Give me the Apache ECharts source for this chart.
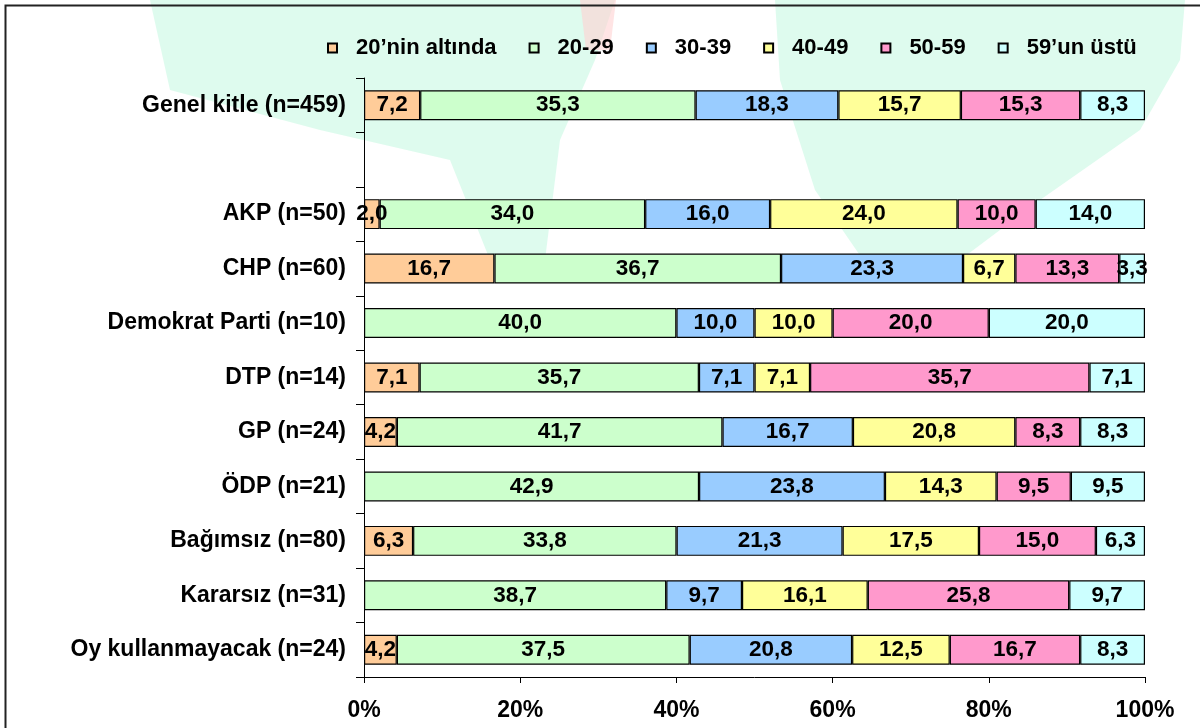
<!DOCTYPE html>
<html>
<head>
<meta charset="utf-8">
<script src="https://cdn.jsdelivr.net/npm/echarts@6/dist/echarts.min.js"></script>
<style>
html,body{margin:0;padding:0;background:#fff;}
#chart{width:1200px;height:728px;}
</style>
</head>
<body>
<div id="chart"></div>
<script>
var categories = ['Genel kitle (n=459)', '', 'AKP (n=50)', 'CHP (n=60)', 'Demokrat Parti (n=10)', 'DTP (n=14)', 'GP (n=24)', 'ÖDP (n=21)', 'Bağımsız (n=80)', 'Kararsız (n=31)', 'Oy kullanmayacak (n=24)'];
var seriesNames = ['20’nin altında', '20-29', '30-39', '40-49', '50-59', '59’un üstü'];
var under20 = [7.2, null, 2.0, 16.7, null, 7.1, 4.2, null, 6.3, null, 4.2];
var age20_29 = [35.3, null, 34.0, 36.7, 40.0, 35.7, 41.7, 42.9, 33.8, 38.7, 37.5];
var age30_39 = [18.3, null, 16.0, 23.3, 10.0, 7.1, 16.7, 23.8, 21.3, 9.7, 20.8];
var age40_49 = [15.7, null, 24.0, 6.7, 10.0, 7.1, 20.8, 14.3, 17.5, 16.1, 12.5];
var age50_59 = [15.3, null, 10.0, 13.3, 20.0, 35.7, 8.3, 9.5, 15.0, 25.8, 16.7];
var over59 = [8.3, null, 14.0, 3.3, 20.0, 7.1, 8.3, 9.5, 6.3, 9.7, 8.3];
var xTicks = [0, 20, 40, 60, 80, 100];
var colors = ['#FFCC99', '#CCFFCC', '#99CCFF', '#FFFF99', '#FF99CC', '#CCFFFF'];

var raw = [under20, age20_29, age30_39, age40_49, age50_59, over59];
var rowSum = categories.map(function (c, i) {
  var s = 0;
  raw.forEach(function (arr) { if (arr[i] != null) s += arr[i]; });
  return s;
});
var font = '"Liberation Sans", Arial, sans-serif';
var chart = echarts.init(document.getElementById('chart'));
var series = raw.map(function (arr, si) {
  return {
    name: seriesNames[si],
    type: 'bar',
    stack: 'total',
    barCategoryGap: '45%',
    data: arr.map(function (v, i) { return v == null ? null : v / rowSum[i] * 100; }),
    itemStyle: { color: colors[si], borderColor: '#000', borderWidth: 1.2 },
    label: {
      show: true,
      position: 'inside',
      color: '#000',
      fontFamily: font,
      fontWeight: 'bold',
      fontSize: 22.5,
      formatter: function (p) {
        var v = raw[si][p.dataIndex];
        return v == null ? '' : v.toFixed(1).replace('.', ',');
      }
    },
    emphasis: { disabled: true }
  };
});
var mint = 'rgba(200,248,226,0.6)';
chart.setOption({
  animation: false,
  backgroundColor: '#fff',
  graphic: [
    { type: 'polygon', z: -10, silent: true,
      shape: { points: [[150,0],[615,0],[595,60],[560,140],[545,260],[490,260],[450,160],[320,130],[170,90]] },
      style: { fill: mint } },
    { type: 'polygon', z: -10, silent: true,
      shape: { points: [[775,0],[1185,0],[1180,60],[1140,130],[1040,200],[960,260],[870,270],[815,190],[780,80]] },
      style: { fill: mint } },
    { type: 'polygon', z: -10, silent: true,
      shape: { points: [[580,0],[616,0],[610,50],[586,50]] },
      style: { fill: 'rgba(255,210,210,0.6)' } },
    { type: 'rect', left: 3, top: 3, z: 100, silent: true,
      shape: { x: 0, y: 0, width: 1300, height: 900 },
      style: { fill: 'none', stroke: '#222', lineWidth: 2 } }
  ],
  legend: {
    left: 322, top: 32,
    itemWidth: 9, itemHeight: 9, itemGap: 32,
    icon: 'rect',
    textStyle: { fontFamily: font, fontWeight: 'bold', fontSize: 22, color: '#000', padding: [0, 0, 0, 14] },
    data: seriesNames
  },
  grid: { left: 364, right: 55, top: 78, bottom: 51 },
  xAxis: {
    type: 'value', min: 0, max: 100, interval: 20,
    axisLine: { show: true, lineStyle: { color: '#000', width: 1 } },
    axisTick: { show: true, length: 6, lineStyle: { color: '#000' } },
    splitLine: { show: false },
    axisLabel: {
      margin: 22,
      fontFamily: font, fontWeight: 'bold', fontSize: 23, color: '#000',
      formatter: function (v) { return xTicks.indexOf(v) >= 0 ? v + '%' : ''; }
    }
  },
  yAxis: {
    type: 'category', inverse: true, data: categories,
    axisLine: { show: true, lineStyle: { color: '#000', width: 1 } },
    axisTick: { show: true, length: 8, lineStyle: { color: '#000' } },
    axisLabel: { margin: 18, fontFamily: font, fontWeight: 'bold', fontSize: 23, color: '#000' }
  },
  series: series
});
</script>
</body>
</html>
